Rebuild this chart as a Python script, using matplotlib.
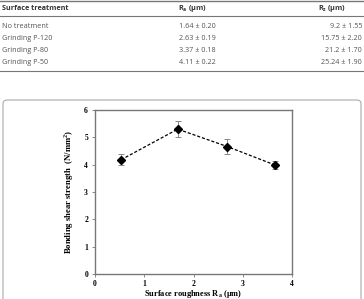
import matplotlib
matplotlib.use("Agg")
import matplotlib.pyplot as plt
from matplotlib.lines import Line2D
from matplotlib.patches import FancyBboxPatch

# Table data
treatments = ["No treatment", "Grinding P-120", "Grinding P-80", "Grinding P-50"]
ra_labels = ["1.64 \u00b1 0.20", "2.63 \u00b1 0.19", "3.37 \u00b1 0.18", "4.11 \u00b1 0.22"]
rz_labels = ["9.2 \u00b1 1.55", "15.75 \u00b1 2.20", "21.2 \u00b1 1.70", "25.24 \u00b1 1.90"]

# Chart data
roughness = [0.53, 1.68, 2.69, 3.65]
strength = [4.18, 5.30, 4.66, 3.99]
strength_err = [0.20, 0.30, 0.27, 0.15]
xticks = [0, 1, 2, 3, 4]
yticks = [0, 1, 2, 3, 4, 5, 6]

W, H = 364, 299
fig = plt.figure(figsize=(W / 100, H / 100), dpi=100)

def fx(px):
    return px / W

def fy(py):
    return 1 - py / H

tfont = "Open Sans"
tcol = "#555555"
# table lines
fig.add_artist(Line2D([fx(0), fx(364)], [fy(1), fy(1)], color="#777777", lw=1.0))
fig.add_artist(Line2D([fx(0), fx(364)], [fy(15.5), fy(15.5)], color="#777777", lw=0.8))
fig.add_artist(Line2D([fx(0), fx(364)], [fy(71.5), fy(71.5)], color="#777777", lw=0.8))

fig.text(fx(2), fy(8.5), "Surface treatment", family=tfont, weight="bold", fontsize=5.2,
         color="#333333", va="center", ha="left")
fig.text(fx(178), fy(8.5), "R$_\\mathregular{a}$ (\u00b5m)", family=tfont, weight="bold",
         fontsize=5.2, color="#333333", va="center", ha="left")
fig.text(fx(318), fy(8.5), "R$_\\mathregular{z}$ (\u00b5m)", family=tfont, weight="bold",
         fontsize=5.2, color="#333333", va="center", ha="left")

row_y = [26, 38, 50, 62]
for i, t in enumerate(treatments):
    fig.text(fx(2), fy(row_y[i]), t, family=tfont, fontsize=5.2, color=tcol,
             va="center", ha="left")
    fig.text(fx(179), fy(row_y[i]), ra_labels[i], family=tfont, fontsize=5.2,
             color=tcol, va="center", ha="left")
    fig.text(fx(362), fy(row_y[i]), rz_labels[i], family=tfont, fontsize=5.2,
             color=tcol, va="center", ha="right")

# rounded box
box = FancyBboxPatch((fx(3), fy(320)), fx(358), (320 - 100) / H,
                     boxstyle="round,pad=0,rounding_size=0.012",
                     transform=fig.transFigure, fill=False,
                     edgecolor="#aaaaaa", lw=0.8)
fig.add_artist(box)

# chart
ax = fig.add_axes([fx(95), fy(274), fx(292) - fx(95), (274 - 110) / H])
ax.errorbar(roughness, strength, yerr=strength_err, fmt="none", ecolor="#888888",
            elinewidth=0.7, capsize=2, capthick=0.7, zorder=2)
ax.plot(roughness, strength, linestyle=(0, (2.5, 1.5)), color="black", lw=0.9,
        marker="D", markersize=4, markerfacecolor="black", zorder=3)
ax.set_xlim(0, 4)
ax.set_ylim(0, 6)
ax.set_xticks(xticks)
ax.set_yticks(yticks)
sfont = "Liberation Serif"
ax.set_xticklabels([str(v) for v in xticks], family=sfont, weight="bold", fontsize=5.5)
ax.set_yticklabels([str(v) for v in yticks], family=sfont, weight="bold", fontsize=5.5)
ax.tick_params(length=2, width=0.6, color="#777777", pad=3)
ax.tick_params(axis="x", pad=2)
for s in ax.spines.values():
    s.set_color("#777777")
    s.set_linewidth(1.0)
ax.set_xlabel("Surface roughness R$_\\mathregular{a}$ (\u00b5m)", family=sfont,
              weight="bold", fontsize=6.0, labelpad=0)
ax.set_ylabel("Bonding shear strength  (N/mm$^\\mathregular{2}$)", family=sfont,
              weight="bold", fontsize=6.2, labelpad=6)

fig.savefig("out.png", dpi=100)
